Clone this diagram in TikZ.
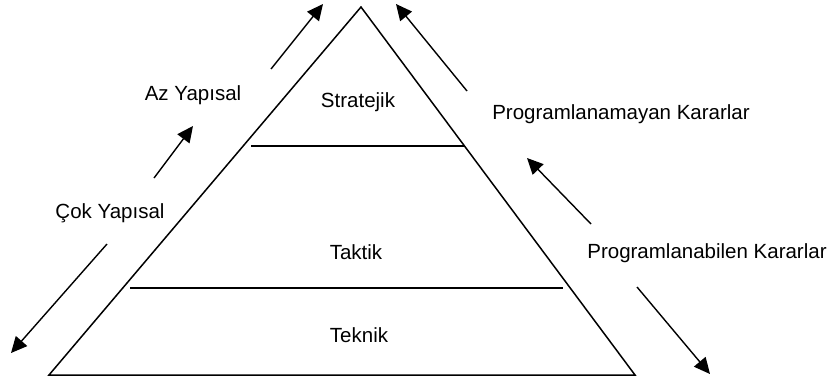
\documentclass[tikz,border=0pt]{standalone}
\usepackage{fontspec}
\setmainfont{Liberation Sans}
\usetikzlibrary{arrows.meta}
\begin{document}
\begin{tikzpicture}[x=1pt,y=-1pt,
  edge/.style={line width=1.5pt,line join=miter},
  arr/.style={line width=1.4pt,-{Triangle[length=16pt,width=15pt]}},
  lbl/.style={anchor=base,inner sep=0pt,font=\fontsize{20.5}{24}\selectfont}]
\useasboundingbox (0,0) rectangle (837,383);
\fill[white] (0,0) rectangle (837,383);
% triangle
\coordinate (apex) at (361,7);
\coordinate (bl) at (49,375);
\coordinate (br) at (635,375);
\draw[edge] (bl) -- (apex) -- (br) -- cycle;
% level lines
\coordinate (l1a) at (251,146);
\coordinate (l1b) at (464,146);
\coordinate (l2a) at (130,288);
\coordinate (l2b) at (563,288);
\draw[edge] (l1a) -- (l1b);
\draw[edge] (l2a) -- (l2b);
% labels
\node[lbl] (strat) at (358,107) {Stratejik};
\node[lbl] (takt) at (356,259) {Taktik};
\node[lbl] (tekn) at (359,342) {Teknik};
\node[lbl] (az) at (193,100) {Az Yap\i sal};
\node[lbl] (cok) at (110,218) {Çok Yap\i sal};
\node[lbl] (pnam) at (621,119) {Programlanamayan Kararlar};
\node[lbl] (pab) at (707,258) {Programlanabilen Kararlar};
% arrows
\coordinate (a1s) at (271,69);  \coordinate (a1e) at (323,4);
\coordinate (a2s) at (154,178); \coordinate (a2e) at (193,126);
\coordinate (a3s) at (107,244); \coordinate (a3e) at (11,353);
\coordinate (a4s) at (467,91);  \coordinate (a4e) at (396,4);
\coordinate (a5s) at (591,224); \coordinate (a5e) at (527,158);
\coordinate (a6s) at (637,287); \coordinate (a6e) at (710,374);
\draw[arr] (a1s) -- (a1e);
\draw[arr] (a2s) -- (a2e);
\draw[arr] (a3s) -- (a3e);
\draw[arr] (a4s) -- (a4e);
\draw[arr] (a5s) -- (a5e);
\draw[arr] (a6s) -- (a6e);
\end{tikzpicture}
\end{document}
